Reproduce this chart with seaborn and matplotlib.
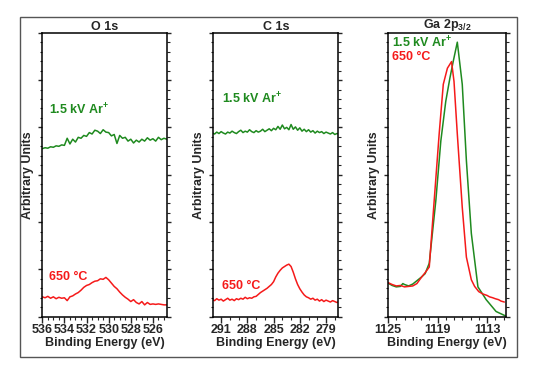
import matplotlib
matplotlib.use('Agg')
import matplotlib.pyplot as plt
from matplotlib.ticker import MultipleLocator, NullFormatter
from matplotlib.patches import Rectangle
import seaborn as sns

# ---- data (y in arbitrary units 0..6) ----
o1s_energy = [536.0, 535.75, 535.5, 535.25, 535.0, 534.75, 534.5, 534.25, 534.0, 533.75,
              533.5, 533.25, 533.0, 532.75, 532.5, 532.25, 532.0, 531.75, 531.5, 531.25,
              531.0, 530.75, 530.5, 530.25, 530.0, 529.75, 529.5, 529.25, 529.0, 528.75,
              528.5, 528.25, 528.0, 527.75, 527.5, 527.25, 527.0, 526.75, 526.5, 526.25,
              526.0, 525.75, 525.5, 525.25, 525.0, 524.75]
o1s_ar = [3.55, 3.57, 3.56, 3.59, 3.58, 3.61, 3.60, 3.63, 3.62, 3.77,
          3.65, 3.75, 3.69, 3.79, 3.77, 3.83, 3.81, 3.89, 3.86, 3.94,
          3.92, 3.87, 3.95, 3.90, 3.89, 3.82, 3.85, 3.66, 3.83, 3.77,
          3.79, 3.71, 3.75, 3.67, 3.73, 3.69, 3.75, 3.71, 3.78, 3.73,
          3.76, 3.71, 3.79, 3.74, 3.77, 3.75]
o1s_650 = [0.42, 0.40, 0.43, 0.39, 0.42, 0.38, 0.41, 0.39, 0.40, 0.34,
           0.42, 0.44, 0.48, 0.51, 0.56, 0.62, 0.66, 0.68, 0.72, 0.75,
           0.76, 0.80, 0.79, 0.83, 0.78, 0.71, 0.64, 0.59, 0.52, 0.46,
           0.41, 0.37, 0.32, 0.36, 0.30, 0.27, 0.32, 0.25, 0.30, 0.26,
           0.27, 0.26, 0.27, 0.26, 0.25, 0.25]

c1s_energy = [292.0, 291.75, 291.5, 291.25, 291.0, 290.75, 290.5, 290.25, 290.0, 289.75,
              289.5, 289.25, 289.0, 288.75, 288.5, 288.25, 288.0, 287.75, 287.5, 287.25,
              287.0, 286.75, 286.5, 286.25, 286.0, 285.75, 285.5, 285.25, 285.0, 284.75,
              284.5, 284.25, 284.0, 283.75, 283.5, 283.25, 283.0, 282.75, 282.5, 282.25,
              282.0, 281.75, 281.5, 281.25, 281.0, 280.75, 280.5, 280.25, 280.0, 279.75,
              279.5, 279.25, 279.0, 278.75, 278.5, 278.25, 278.0, 277.75, 277.5]
c1s_ar = [3.88, 3.86, 3.90, 3.87, 3.91, 3.88, 3.86, 3.90, 3.88, 3.92,
          3.89, 3.87, 3.91, 3.94, 3.89, 3.92, 3.90, 3.95, 3.91, 3.89,
          3.93, 3.90, 3.92, 3.96, 3.91, 3.94, 3.97, 3.93, 3.98, 3.95,
          4.02, 3.96, 4.05, 3.97, 4.00, 3.95, 4.06, 3.96, 4.01, 3.94,
          3.99, 3.92, 3.96, 3.91, 3.95, 3.90, 3.93, 3.88, 3.92, 3.89,
          3.91, 3.87, 3.90, 3.88, 3.86, 3.89, 3.85, 3.87, 3.86]
c1s_650 = [0.36, 0.34, 0.38, 0.35, 0.37, 0.33, 0.36, 0.39, 0.35, 0.37,
           0.34, 0.38, 0.36, 0.39, 0.37, 0.41, 0.38, 0.40, 0.39, 0.42,
           0.43, 0.47, 0.51, 0.54, 0.57, 0.60, 0.64, 0.68, 0.74, 0.84,
           0.92, 0.98, 1.03, 1.06, 1.09, 1.11, 1.06, 0.94, 0.80, 0.68,
           0.59, 0.52, 0.46, 0.42, 0.40, 0.37, 0.39, 0.35, 0.37, 0.33,
           0.36, 0.32, 0.35, 0.33, 0.31, 0.34, 0.32, 0.30, 0.32]

ga_ar_energy = [1125.0, 1124.5, 1124.0, 1123.5, 1123.2, 1123.0, 1122.5, 1122.0, 1121.5, 1121.0,
                1120.5, 1120.0, 1119.2, 1118.6, 1118.0, 1117.5, 1117.1, 1116.6, 1116.0, 1115.5,
                1114.9, 1114.1, 1113.1, 1111.9, 1110.8]
ga_ar = [0.71, 0.66, 0.63, 0.64, 0.70, 0.68, 0.65, 0.69, 0.76, 0.83,
         0.91, 1.13, 2.46, 3.71, 4.55, 5.04, 5.39, 5.80, 4.91, 3.30,
         1.76, 0.63, 0.36, 0.11, 0.02]
ga_650_energy = [1125.0, 1124.5, 1124.0, 1123.5, 1123.0, 1122.5, 1122.0, 1121.5, 1121.0, 1120.5,
                 1120.0, 1119.4, 1118.8, 1118.3, 1117.8, 1117.3, 1117.0, 1116.6, 1116.0, 1115.5,
                 1114.9, 1114.5, 1114.0, 1113.5, 1113.0, 1112.7, 1112.3, 1112.0, 1111.6, 1111.3,
                 1110.9]
ga_650 = [0.72, 0.68, 0.65, 0.66, 0.63, 0.64, 0.65, 0.70, 0.82, 0.93,
          1.05, 2.46, 3.86, 4.91, 5.25, 5.39, 4.97, 3.86, 2.31, 1.26,
          0.78, 0.64, 0.53, 0.48, 0.45, 0.42, 0.40, 0.38, 0.36, 0.33,
          0.31]

GREEN = '#1f8a1f'
RED = '#f51a1a'
FS = 9

sns.set_style('ticks')
plt.rcParams['font.family'] = ['Liberation Sans', 'DejaVu Sans']
plt.rcParams['font.weight'] = 'bold'
plt.rcParams['mathtext.fontset'] = 'custom'
plt.rcParams['mathtext.rm'] = 'Liberation Sans:bold'
plt.rcParams['mathtext.bf'] = 'Liberation Sans:bold'
plt.rcParams['mathtext.it'] = 'Liberation Sans:bold'

fig = plt.figure(figsize=(5.36, 3.68), dpi=100)

# outer frame round the whole figure
fig.patches.append(Rectangle((0.0373, 0.030), 0.927, 0.9247, transform=fig.transFigure,
                             fill=False, edgecolor='#555555', linewidth=1.0))

bottom, height = 0.1394, 0.7717
panels = [
    dict(rect=[0.0789, bottom, 0.2332, height], title='O 1s', xlim=(536, 524.7),
         major=(2, 0), minor=0.5, curves=[(o1s_energy, o1s_ar, GREEN), (o1s_energy, o1s_650, RED)],
         labels=[(0.054, 0.728), (0.054, 0.14)]),
    dict(rect=[0.3979, bottom, 0.2332, height], title='C 1s', xlim=(291.9, 277.6),
         major=(3, 0), minor=1, curves=[(c1s_energy, c1s_ar, GREEN), (c1s_energy, c1s_650, RED)],
         labels=[(0.067, 0.768), (0.067, 0.108)]),
    dict(rect=[0.7239, bottom, 0.2201, height], title=r'Ga 2p$_{3/2}$', xlim=(1125, 1110.7),
         major=(6, 3), minor=1, curves=[(ga_ar_energy, ga_ar, GREEN), (ga_650_energy, ga_650, RED)],
         labels=[(0.031, 0.964), (0.031, 0.913)]),
]

for p in panels:
    ax = fig.add_axes(p['rect'])
    for xs, ys, col in p['curves']:
        sns.lineplot(x=xs, y=ys, color=col, linewidth=1.1, sort=False, ax=ax)
    ax.set_xlim(*p['xlim'])
    ax.set_ylim(0, 6)
    ax.xaxis.set_major_locator(MultipleLocator(p['major'][0], offset=p['major'][1]))
    ax.xaxis.set_minor_locator(MultipleLocator(p['minor']))
    ax.yaxis.set_major_locator(MultipleLocator(1))
    ax.yaxis.set_minor_locator(MultipleLocator(0.2))
    ax.yaxis.set_major_formatter(NullFormatter())
    ax.tick_params(axis='x', which='major', direction='out', length=4, width=1,
                   labelsize=FS, pad=1.5)
    ax.tick_params(axis='x', which='minor', direction='out', length=2.2, width=0.8)
    ax.tick_params(axis='y', which='major', direction='out', length=3, width=1,
                   left=True, right=True)
    ax.tick_params(axis='y', which='minor', direction='out', length=1.8, width=0.8,
                   left=True, right=True)
    for lab in ax.get_xticklabels():
        lab.set_fontweight('bold')
    for s in ax.spines.values():
        s.set_visible(True)
        s.set_linewidth(1.1)
        s.set_color('black')
    ax.set_title(p['title'], fontsize=FS, fontweight='bold', pad=2)
    ax.set_xlabel('Binding Energy (eV)', fontsize=FS, fontweight='bold', labelpad=0.5)
    ax.set_ylabel('Arbitrary Units', fontsize=FS, fontweight='bold')
    ax.yaxis.set_label_coords(-0.065, 0.5)
    (gx, gy), (rx, ry) = p['labels']
    ax.text(gx, gy, r'1.5 kV Ar$^{+}$', transform=ax.transAxes, color=GREEN,
            fontsize=FS, fontweight='bold', va='center', ha='left')
    ax.text(rx, ry, '650 °C', transform=ax.transAxes, color=RED,
            fontsize=FS, fontweight='bold', va='center', ha='left')

fig.savefig('out.png', dpi=100)
